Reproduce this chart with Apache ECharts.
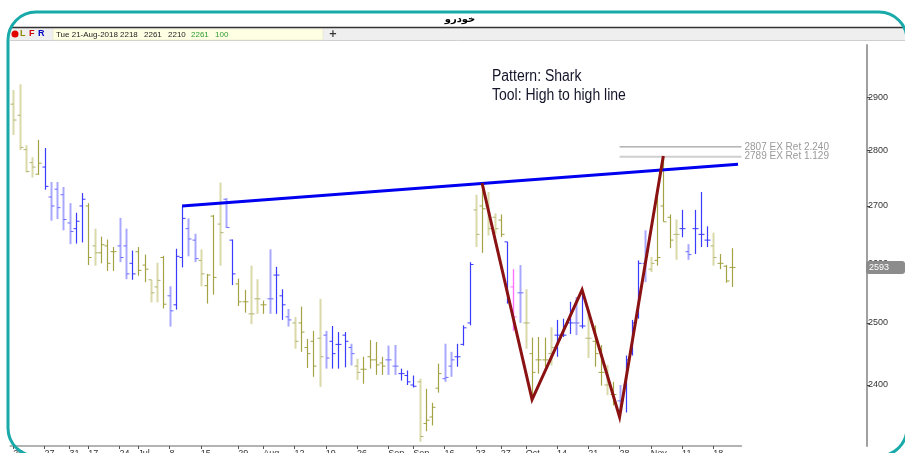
<!DOCTYPE html>
<html style="height: 100%">

<head>
    <meta charset="utf-8">
    <title>خودرو</title>
</head>

<body style="height: 100%; margin: 0; background: #fff">
    <div id="container" style="width: 905px; height: 453px"></div>
    <script src="https://cdn.jsdelivr.net/npm/echarts@6/dist/echarts.min.js"></script>
    <script type="text/javascript">
        // daily bars, oldest first (price scale is logarithmic, so values go through Math.log)
        var opens = [2887, 2866, 2802, 2778, 2757, 2770, 2716, 2730, 2720, 2670, 2660, 2700, 2700, 2630, 2618, 2630, 2620, 2630, 2630, 2600,
            2620, 2597, 2572, 2560, 2610, 2545, 2530, 2610, 2660, 2640, 2605, 2562, 2682, 2668, 2712, 2640, 2565, 2535, 2515, 2540,
            2530, 2540, 2580, 2545, 2510, 2500, 2500, 2460, 2470, 2475, 2480, 2470, 2465, 2480, 2460, 2430, 2425, 2445, 2440, 2435,
            2440, 2430, 2418, 2415, 2400, 2405, 2340, 2350, 2395, 2410, 2430, 2445, 2465, 2500, 2693, 2700, 2700, 2680, 2675, 2637,
            2560, 2550, 2500, 2450, 2440, 2440, 2450, 2480, 2480, 2500, 2500, 2495, 2475, 2470, 2420, 2400, 2385, 2375, 2400, 2450,
            2510, 2600, 2590, 2605, 2700, 2680, 2650, 2660, 2620, 2660, 2650, 2640, 2630, 2600, 2595, 2593];
        var highs = [2914, 2925, 2810, 2788, 2820, 2805, 2743, 2743, 2734, 2705, 2688, 2723, 2705, 2660, 2646, 2641, 2628, 2679, 2660, 2622,
            2628, 2615, 2572, 2601, 2613, 2561, 2625, 2699, 2678, 2651, 2624, 2582, 2684, 2742, 2714, 2641, 2574, 2555, 2596, 2573,
            2537, 2624, 2594, 2556, 2523, 2510, 2527, 2474, 2487, 2540, 2487, 2495, 2485, 2485, 2466, 2442, 2445, 2472, 2469, 2445,
            2463, 2464, 2426, 2423, 2415, 2410, 2394, 2372, 2434, 2466, 2453, 2466, 2496, 2602, 2720, 2742, 2725, 2687, 2685, 2637,
            2590, 2597, 2556, 2476, 2477, 2476, 2493, 2505, 2507, 2535, 2543, 2553, 2523, 2496, 2464, 2432, 2405, 2400, 2447, 2505,
            2605, 2657, 2611, 2734, 2790, 2685, 2676, 2693, 2633, 2693, 2725, 2664, 2653, 2616, 2597, 2626];
        var lows = [2829, 2801, 2760, 2751, 2756, 2729, 2674, 2677, 2657, 2633, 2634, 2636, 2597, 2596, 2600, 2587, 2587, 2602, 2573, 2572,
            2579, 2568, 2534, 2534, 2524, 2494, 2522, 2593, 2612, 2602, 2561, 2532, 2547, 2596, 2661, 2563, 2528, 2517, 2498, 2515,
            2515, 2515, 2515, 2505, 2494, 2458, 2453, 2427, 2413, 2397, 2426, 2426, 2426, 2428, 2431, 2408, 2402, 2426, 2416, 2416,
            2416, 2416, 2407, 2400, 2396, 2312, 2328, 2337, 2388, 2405, 2413, 2429, 2463, 2496, 2628, 2618, 2648, 2651, 2645, 2532,
            2487, 2500, 2458, 2382, 2418, 2429, 2431, 2445, 2477, 2482, 2480, 2491, 2443, 2429, 2399, 2384, 2368, 2359, 2357, 2447,
            2507, 2568, 2585, 2596, 2672, 2626, 2606, 2645, 2606, 2616, 2628, 2628, 2596, 2590, 2567, 2560];
        var closes = [2857, 2806, 2762, 2770, 2777, 2735, 2700, 2697, 2676, 2655, 2673, 2712, 2610, 2618, 2632, 2600, 2620, 2610, 2582, 2582,
            2588, 2590, 2550, 2571, 2531, 2520, 2612, 2678, 2642, 2608, 2582, 2580, 2576, 2653, 2662, 2582, 2535, 2535, 2515, 2540,
            2530, 2540, 2580, 2530, 2505, 2470, 2485, 2450, 2430, 2445, 2443, 2450, 2465, 2470, 2450, 2420, 2425, 2440, 2432, 2430,
            2440, 2430, 2418, 2405, 2398, 2320, 2345, 2365, 2418, 2412, 2440, 2445, 2492, 2598, 2650, 2695, 2660, 2660, 2650, 2535,
            2510, 2550, 2500, 2420, 2440, 2440, 2460, 2480, 2480, 2500, 2500, 2495, 2475, 2450, 2420, 2400, 2385, 2375, 2440, 2500,
            2600, 2620, 2600, 2610, 2672, 2640, 2650, 2660, 2615, 2660, 2650, 2640, 2610, 2600, 2570, 2593];
        // bar signal from the source program: B/b = blue (strong/weak), O/o = olive (strong/weak), P = pink
        var signal = 'ooooOBbbbbBBOoOOObbBOOooObBBbboOOobBOOooObBBboOOOobBBBboOOOObbBBBoOOObbBBBoOooOBPboOOOoBBBbBoOOoObBBBboOOOoBbBBBoOOO';

        // x axis labels (bar index -> text)
        var tickIdx = [0, 5, 9, 12, 17, 20, 25, 30, 36, 40, 45, 50, 55, 60, 64, 69, 74, 78, 82, 87, 92, 97, 102, 107, 112];
        var tickText = ['20', '27', '31', '17', '24', 'Jul', '8', '15', '29', 'Aug', '12', '19', '26', 'Sep', 'Sep', '16', '23', '27', 'Oct', '14', '21', '28', 'Nov', '11', '18'];
        var priceTicks = [2400, 2500, 2600, 2700, 2800, 2900];
        var lastPrice = 2593;

        // drawings
        var trendLine = [[27, 2700], [115.95, 2775]];
        var sharkPts = [[75, 2741], [83, 2377], [91, 2555], [97, 2350], [104, 2790]];
        var extLevels = [2807, 2789];
        var extRatios = ['2.240', '1.129'];
        var extStart = 97;

        var L = Math.log;
        var toneStyle = {
            B: { bar: '#3b3bff', tick: '#3b3bff', w: 1.2 },
            b: { bar: '#a8a8ff', tick: '#6c6cff', w: 2 },
            O: { bar: '#a3a345', tick: '#a3a345', w: 1.2 },
            o: { bar: '#d9d9aa', tick: '#b2b272', w: 2 },
            P: { bar: '#ff72ff', tick: '#ff72ff', w: 1.4 }
        };

        var bars = opens.map(function (o, i) {
            return [i, L(o), L(highs[i]), L(lows[i]), L(closes[i])];
        });

        function renderBar(params, api) {
            var x = api.value(0);
            var o = api.coord([x, api.value(1)]);
            var h = api.coord([x, api.value(2)]);
            var l = api.coord([x, api.value(3)]);
            var c = api.coord([x, api.value(4)]);
            var st = toneStyle[signal.charAt(params.dataIndex)];
            var cx = Math.round(h[0]) + 0.5;
            return {
                type: 'group',
                children: [
                    { type: 'line', shape: { x1: cx, y1: h[1], x2: cx, y2: l[1] }, style: { stroke: st.bar, lineWidth: st.w } },
                    { type: 'line', shape: { x1: cx - 3, y1: o[1], x2: cx, y2: o[1] }, style: { stroke: st.tick, lineWidth: 1 } },
                    { type: 'line', shape: { x1: cx, y1: c[1], x2: cx + 3, y2: c[1] }, style: { stroke: st.tick, lineWidth: 1 } }
                ]
            };
        }

        function logPts(pts) {
            return pts.map(function (p) { return [p[0], L(p[1])]; });
        }

        var myChart = echarts.init(document.getElementById('container'));

        var extSeries = extLevels.map(function (v, k) {
            return {
                type: 'line',
                data: logPts([[extStart, v], [116.5, v]]),
                symbol: 'none',
                silent: true,
                z: 3,
                lineStyle: { color: k === 0 ? '#8a8a8a' : '#cfcfcf', width: k === 0 ? 1 : 2 },
                endLabel: {
                    show: true,
                    formatter: v + ' EX Ret ' + extRatios[k],
                    color: '#9a9a9a',
                    fontSize: 10,
                    fontFamily: 'Liberation Sans, Arial, sans-serif',
                    distance: 3
                }
            };
        });

        var tbFont = '8px "Liberation Sans", Arial, sans-serif';

        var option = {
            animation: false,
            backgroundColor: '#fff',
            grid: { left: 10.2, top: 45, width: 731.25, height: 401, containLabel: false, outerBoundsMode: 'none' },
            xAxis: {
                type: 'value',
                min: -0.5,
                max: 116.5,
                splitLine: { show: false },
                axisLine: { onZero: false, lineStyle: { color: '#9a9a9a', width: 1.5 } },
                axisTick: { length: 3, lineStyle: { color: '#555' }, customValues: tickIdx },
                axisLabel: {
                    customValues: tickIdx,
                    align: 'left',
                    margin: 3,
                    fontSize: 9,
                    color: '#333',
                    fontFamily: 'Liberation Sans, Arial, sans-serif',
                    formatter: function (v) { return tickText[tickIdx.indexOf(v)]; }
                }
            },
            yAxis: {
                type: 'value',
                position: 'right',
                offset: 125.5,
                min: 7.74309,
                max: 8.00690,
                splitLine: { show: false },
                axisLine: { show: true, onZero: false, lineStyle: { color: '#a0a0a0', width: 2 } },
                axisTick: { show: true, length: 3, lineStyle: { color: '#444' }, customValues: priceTicks.map(function (v) { return L(v); }) },
                axisLabel: {
                    customValues: priceTicks.map(function (v) { return L(v); }),
                    margin: 1,
                    fontSize: 9,
                    color: '#333',
                    fontFamily: 'Liberation Sans, Arial, sans-serif',
                    formatter: function (v) { return Math.round(Math.exp(v)); }
                },
                axisPointer: {
                    show: true,
                    status: 'show',
                    value: L(lastPrice),
                    triggerTooltip: false,
                    lineStyle: { opacity: 0 },
                    label: {
                        show: true,
                        formatter: function () { return String(lastPrice); },
                        backgroundColor: '#8c8c8c',
                        color: '#fff',
                        fontSize: 9,
                        fontFamily: 'Liberation Sans, Arial, sans-serif',
                        padding: [2, 16, 2, 3],
                        margin: 0
                    }
                }
            },
            graphic: [
                { type: 'rect', shape: { x: 8, y: 12, width: 899, height: 444, r: 28 }, style: { fill: 'none', stroke: '#19a9a9', lineWidth: 3 }, z: 10 },
                { type: 'text', x: 460, y: 19, style: { text: 'خودرو', fill: '#000', font: 'bold 10px "DejaVu Sans", sans-serif', textAlign: 'center', textVerticalAlign: 'middle' } },
                { type: 'rect', shape: { x: 10, y: 28, width: 895, height: 12 }, style: { fill: '#efefef' } },
                { type: 'line', shape: { x1: 12, y1: 27.5, x2: 905, y2: 27.5 }, style: { stroke: '#333', lineWidth: 1.5 } },
                { type: 'line', shape: { x1: 10, y1: 40.5, x2: 905, y2: 40.5 }, style: { stroke: '#cfcfcf', lineWidth: 1 } },
                { type: 'circle', shape: { cx: 15, cy: 34, r: 3.5 }, style: { fill: '#e00000' } },
                { type: 'text', x: 20, y: 34, style: { text: 'L', fill: '#8a8a00', font: 'bold 9px "Liberation Sans", sans-serif', textVerticalAlign: 'middle' } },
                { type: 'text', x: 29, y: 34, style: { text: 'F', fill: '#d00000', font: 'bold 9px "Liberation Sans", sans-serif', textVerticalAlign: 'middle' } },
                { type: 'text', x: 38, y: 34, style: { text: 'R', fill: '#0000c0', font: 'bold 9px "Liberation Sans", sans-serif', textVerticalAlign: 'middle' } },
                { type: 'rect', shape: { x: 53, y: 29, width: 270, height: 11 }, style: { fill: '#ffffe4', stroke: '#dcdcc0', lineWidth: 0.5 } },
                { type: 'text', x: 56, y: 34.5, style: { text: 'Tue 21-Aug-2018', fill: '#222', font: tbFont, textVerticalAlign: 'middle' } },
                { type: 'text', x: 120, y: 34.5, style: { text: '2218', fill: '#222', font: tbFont, textVerticalAlign: 'middle' } },
                { type: 'text', x: 144, y: 34.5, style: { text: '2261', fill: '#222', font: tbFont, textVerticalAlign: 'middle' } },
                { type: 'text', x: 168, y: 34.5, style: { text: '2210', fill: '#222', font: tbFont, textVerticalAlign: 'middle' } },
                { type: 'text', x: 191, y: 34.5, style: { text: '2261', fill: '#2e9a2e', font: tbFont, textVerticalAlign: 'middle' } },
                { type: 'text', x: 215, y: 34.5, style: { text: '100', fill: '#2e9a2e', font: tbFont, textVerticalAlign: 'middle' } },
                { type: 'text', x: 333, y: 34.5, style: { text: '+', fill: '#333', font: 'bold 10px "DejaVu Sans", sans-serif', textAlign: 'center', textVerticalAlign: 'middle' } },
                { type: 'text', x: 492, y: 67, scaleX: 0.875, style: { text: 'Pattern: Shark\nTool: High to high line', fill: '#15152a', font: '16px "Liberation Sans", Arial, sans-serif', lineHeight: 19 } }
            ],
            series: [{
                type: 'custom',
                renderItem: renderBar,
                data: bars,
                encode: { x: 0, y: [1, 2, 3, 4] },
                silent: true,
                z: 2
            }, {
                type: 'line',
                data: logPts(trendLine),
                symbol: 'none',
                silent: true,
                z: 4,
                lineStyle: { color: '#0000f0', width: 3 }
            }].concat(extSeries).concat([{
                type: 'line',
                data: logPts(sharkPts),
                symbol: 'none',
                silent: true,
                z: 5,
                lineStyle: { color: '#8b1212', width: 3, join: 'miter' }
            }])
        };
        myChart.setOption(option);
    </script>
</body>

</html>
